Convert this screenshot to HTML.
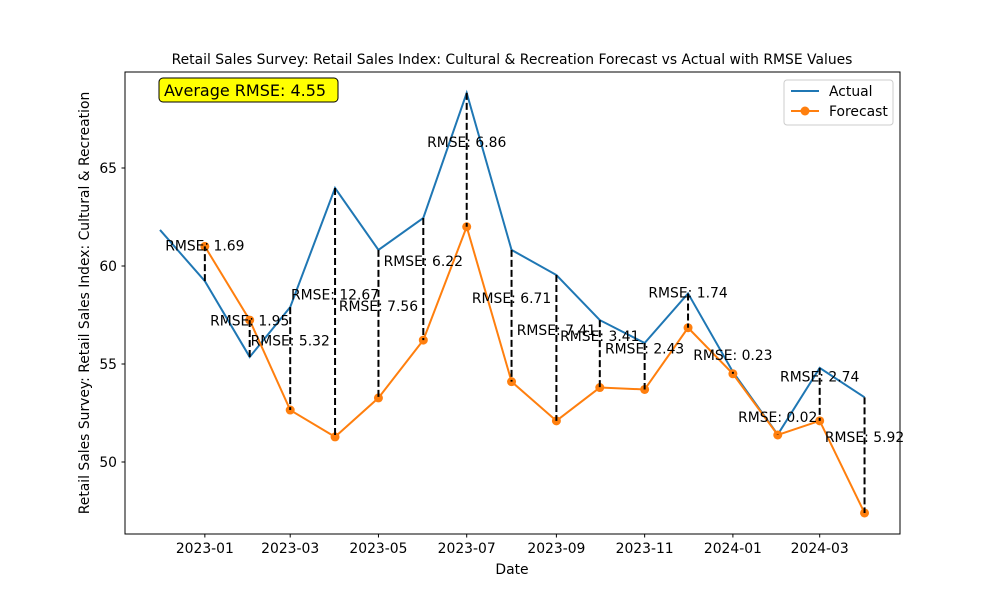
<!DOCTYPE html>
<html><head><meta charset="utf-8"><style>
body{margin:0;background:#fff}
svg text{font-family:"DejaVu Sans","Liberation Sans",sans-serif}
</style></head><body>
<svg id="chart" width="1000" height="600" xmlns="http://www.w3.org/2000/svg">
<rect width="1000" height="600" fill="#fff"/>
<text x="512" y="64" font-size="13.9" text-anchor="middle">Retail Sales Survey: Retail Sales Index: Cultural &amp; Recreation Forecast vs Actual with RMSE Values</text>
<g id="plot"></g>
<rect x="125" y="72" width="775" height="462" fill="none" stroke="#000" stroke-width="1"/>
<text x="512" y="574" font-size="13.9" text-anchor="middle">Date</text>
<text transform="translate(89,303) rotate(-90)" font-size="13.9" text-anchor="middle">Retail Sales Survey: Retail Sales Index: Cultural &amp; Recreation</text>
<g>
<rect x="159" y="78" width="179" height="24" rx="4" fill="#ffff00" stroke="#000"/>
<text x="164" y="96" font-size="16">Average RMSE: 4.55</text>
</g>
<g>
<rect x="784" y="80" width="109" height="45" rx="3" fill="#fff" stroke="#ccc"/>
<g><line x1="791" y1="91" x2="819" y2="91" stroke="#1f77b4" stroke-width="2"/><text x="829" y="96" font-size="13.9">Actual</text></g>
<g><line x1="791" y1="111" x2="819" y2="111" stroke="#ff7f0e" stroke-width="2"/><circle cx="805" cy="111" r="4.5" fill="#ff7f0e"/><text x="829" y="116" font-size="13.9">Forecast</text></g>
</g>
</svg>
<script>
const dates=["2022-12","2023-01","2023-02","2023-03","2023-04","2023-05","2023-06","2023-07","2023-08","2023-09","2023-10","2023-11","2023-12","2024-01","2024-02","2024-03","2024-04"];
const actual=[61.84,59.23,55.36,57.9,63.98,60.82,62.45,68.83,60.82,59.54,57.24,56.07,58.6,54.6,51.4,54.8,53.3];
const forecast=[null,61.0,57.24,52.65,51.28,53.27,56.22,62.0,54.1,52.1,53.8,53.7,56.85,54.5,51.38,52.1,47.4];
const rmse=[null,"1.69","1.95","5.32","12.67","7.56","6.22","6.86","6.71","7.41","3.41","2.43","1.74","0.23","0.02","2.74","5.92"];
const yTicks=[50,55,60,65];
const xTicks=["2023-01","2023-03","2023-05","2023-07","2023-09","2023-11","2024-01","2024-03"];
const NS="http://www.w3.org/2000/svg";
const base=Date.UTC(2022,11,1);
function xs(d){const p=d.split("-");const t=Date.UTC(+p[0],+p[1]-1,1);return 160+(t-base)/864e5*1.4467;}
function ys(v){return 462-(v-50)*19.6;}
const g=document.getElementById("plot");
function mk(tag,attrs){const e=document.createElementNS(NS,tag);for(const k in attrs)e.setAttribute(k,attrs[k]);g.appendChild(e);return e;}
yTicks.forEach(v=>{
const t=mk("line",{x1:121.5,x2:125,y1:ys(v),y2:ys(v),stroke:"#000"});


const l=mk("text",{x:117,y:ys(v)+5,"font-size":13.9,"text-anchor":"end"});l.textContent=v;


});
xTicks.forEach(d=>{
const t=mk("line",{x1:xs(d),x2:xs(d),y1:534,y2:537.5,stroke:"#000"});


const l=mk("text",{x:xs(d),y:553,"font-size":13.9,"text-anchor":"middle"});l.textContent=d;


});
const ap=mk("polyline",{points:dates.map((d,i)=>xs(d)+","+ys(actual[i])).join(" "),fill:"none",stroke:"#1f77b4","stroke-width":2});


const fp=mk("polyline",{points:dates.map((d,i)=>forecast[i]==null?null:xs(d)+","+ys(forecast[i])).filter(Boolean).join(" "),fill:"none",stroke:"#ff7f0e","stroke-width":2});


dates.forEach((d,i)=>{
if(forecast[i]==null)return;
const c=mk("circle",{cx:xs(d),cy:ys(forecast[i]),r:4.5,fill:"#ff7f0e"});


});
dates.forEach((d,i)=>{
if(forecast[i]==null)return;
const ln=mk("line",{x1:xs(d),x2:xs(d),y1:ys(actual[i]),y2:ys(forecast[i]),stroke:"#000","stroke-width":2,"stroke-dasharray":"7,3"});


});
dates.forEach((d,i)=>{
if(forecast[i]==null)return;
const my=(ys(actual[i])+ys(forecast[i]))/2-18;
const t=mk("text",{x:xs(d),y:my+5,"font-size":13.9,"text-anchor":"middle"});t.textContent="RMSE: "+rmse[i];


});
</script>
</body></html>
